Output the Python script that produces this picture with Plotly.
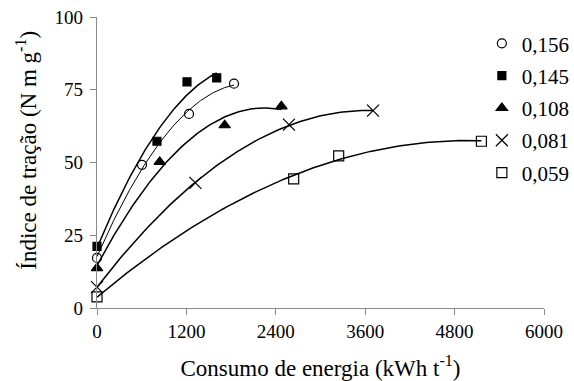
import numpy as np
import plotly.graph_objects as go

# Data
series_names = ["0,156", "0,145", "0,108", "0,081", "0,059"]
x_0156 = [0, 604, 1235, 1839]
y_0156 = [17.2, 49.2, 66.7, 77.1]
x_0145 = [0, 805, 1208, 1607]
y_0145 = [21.2, 57.3, 77.7, 79.1]
x_0108 = [0, 842, 1714, 2475]
y_0108 = [13.7, 50.2, 62.8, 69.3]
x_0081 = [0, 1321, 2577, 3705]
y_0081 = [7.2, 43.0, 63.0, 67.8]
x_0059 = [0, 2640, 3244, 5160]
y_0059 = [3.8, 44.4, 52.3, 57.3]

xs = [x_0156, x_0145, x_0108, x_0081, x_0059]
ys = [y_0156, y_0145, y_0108, y_0081, y_0059]
symbols = ["circle-open", "square", "triangle-up", "x-thin-open", "square-open"]
msizes = [9, 8, 10, 12, 10]
line_widths = [1, 1.5, 1.5, 1.5, 1.5]

x_ticks = [0, 1200, 2400, 3600, 4800, 6000]
y_ticks = [0, 25, 50, 75, 100]

FONT = "Liberation Serif"

fig = go.Figure()

# quadratic trendlines fitted to each series
for x, y, lw in zip(xs, ys, line_widths):
    c = np.polyfit(x, y, 2)
    xf = np.linspace(0, max(x), 120)
    fig.add_trace(go.Scatter(x=xf, y=np.polyval(c, xf), mode="lines",
                             line=dict(color="black", width=lw),
                             showlegend=False, hoverinfo="skip"))

for i, (x, y) in enumerate(zip(xs, ys)):
    fig.add_trace(go.Scatter(
        x=x, y=y, mode="markers", name=series_names[i],
        legendgroup=series_names[i],
        marker=dict(symbol=symbols[i], size=msizes[i], color="black",
                    line=dict(color="black", width=1.2)),
        cliponaxis=False))

fig.update_layout(
    width=574, height=381,
    margin=dict(l=97, r=30, t=17, b=73, autoexpand=False),
    paper_bgcolor="white", plot_bgcolor="white",
    font=dict(family=FONT, color="black", size=19),
    legend=dict(x=0.861, xanchor="left", y=0.9787, yanchor="top",
                font=dict(size=21, family=FONT), tracegroupgap=2,
                bgcolor="rgba(0,0,0,0)", itemsizing="trace"),
    xaxis=dict(range=[0, 6000], tickvals=x_ticks, ticks="outside",
               ticklen=6, tickcolor="#898989", showline=True,
               linecolor="#898989", linewidth=1.3, showgrid=False,
               zeroline=False, automargin=False,
               title=dict(text="Consumo de energia (kWh t<sup>-1</sup>)",
                          font=dict(size=23, family=FONT), standoff=22)),
    yaxis=dict(range=[0, 100], tickvals=y_ticks, ticks="outside",
               ticklen=6, tickcolor="#898989", showline=True,
               linecolor="#898989", linewidth=1.3, showgrid=False,
               zeroline=False, ticklabelstandoff=3, automargin=False),
    annotations=[dict(text="Índice de tração (N m g<sup>-1</sup>)",
                      xref="paper", yref="paper",
                      x=(27 - 97) / 447, y=(308.3 - 151) / 291.0,
                      xanchor="center", yanchor="middle", textangle=-90,
                      showarrow=False, font=dict(size=23, family=FONT))],
)

fig.write_html("out.html")
